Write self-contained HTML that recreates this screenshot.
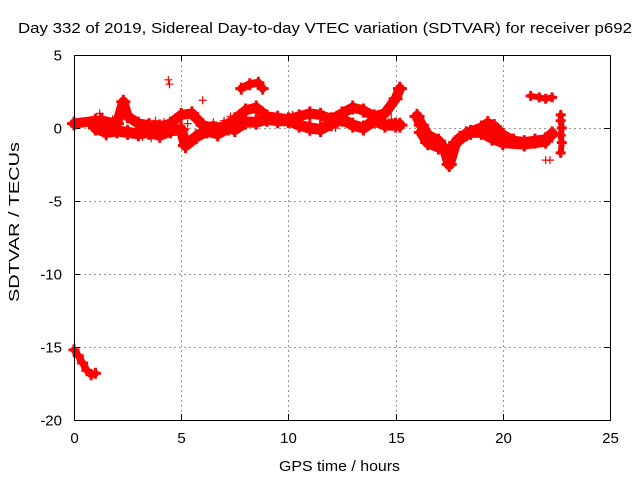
<!DOCTYPE html>
<html><head><meta charset="utf-8"><style>
html,body{margin:0;padding:0;background:#fff}
svg{display:block;font-family:"Liberation Sans",sans-serif}
</style></head><body>
<svg id="chart" width="640" height="480" viewBox="0 0 640 480">
<text x="18" y="33" font-size="15" textLength="614" lengthAdjust="spacingAndGlyphs">Day 332 of 2019, Sidereal Day-to-day VTEC variation (SDTVAR) for receiver p692</text>
<text x="279" y="471" font-size="15" textLength="121" lengthAdjust="spacingAndGlyphs">GPS time / hours</text>
<text transform="translate(19,302) rotate(-90)" font-size="15" textLength="160" lengthAdjust="spacingAndGlyphs">SDTVAR / TECUs</text>
<g id="grid"></g>
<g id="ticks"></g>
<g id="marks"></g>
<rect x="74.5" y="55.5" width="536" height="365" fill="none" stroke="#000" stroke-width="1"/>
</svg>
<script>
const xTicks=[0,5,10,15,20,25];
const yTicks=[5,0,-5,-10,-15,-20];
const upperX=[0,1,1.3,2,2.3,2.5,3,3.5,4,4.5,5,5.5,6,6.5,7,7.5,8,8.5,9,9.5,10,10.5,11,11.5,12,12.5,13,13.5,14,14.5,15,15.2];
const upperY=[0.3,0.5,0.5,0.3,1.8,0.8,0.3,0.2,0.1,0.3,0.9,1.0,0.2,0.0,0.1,0.6,1.2,1.4,0.8,0.7,0.6,0.8,1.0,0.9,0.6,1.0,1.4,1.2,0.8,1.0,2.0,2.7];
const lowerX=[1,1.5,2,2.5,3,3.5,4,4.5,5,5.2,5.7,6.2,6.7,7.2,7.5,8,8.5,9,9.5,10,10.5,11,11.5,12,12.5,13,13.5,14,14.5,15,15.2];
const lowerY=[0.0,-0.3,-0.2,-0.3,-0.4,-0.3,-0.5,-0.2,-0.1,-1.2,-0.6,-0.2,-0.4,0.0,-0.1,0.4,0.4,0.6,0.5,0.5,0.2,0.0,-0.1,0.3,0.6,0.2,0.0,0.5,0.2,0.2,0.2];
const noiseX=[1.2,1.8,2.4,3.2,3.8,4.6,5.3,6.5,7.0,10.2,11.0,12.2,13.8,14.8,1.5,2.8,3.6,4.2];
const noiseY=[0.8,0.6,1.2,-0.6,0.5,0.6,0.3,0.4,0.5,0.9,-0.3,0.0,0.4,0.6,-0.6,0.5,-0.7,0.4];
const humpX=[7.8,8.2,8.6,8.8];
const humpY=[2.7,3.0,3.1,2.7];
const late1X=[16.0,16.2,16.5,17,17.3,17.5,17.8,18.3,19,19.3,19.6,20,20.5,21,21.5,22,22.3];
const late1Y=[0.8,0.2,-0.5,-0.9,-1.5,-2.5,-1.0,-0.4,0.0,0.3,0.1,-0.5,-0.9,-1.0,-0.9,-0.8,-0.4];
const late2X=[16.2,16.5,17,17.5,18,18.5,19,19.5,20,21,22];
const late2Y=[-0.3,-1.0,-1.3,-1.6,-0.7,-0.3,-0.3,-0.7,-1.0,-1.1,-0.9];
const blobX=[21.3,21.7,22.0,22.3];
const blobY=[2.2,2.1,2.0,2.1];
const vertX=[22.7,22.7,22.75,22.7,22.75,22.7];
const vertY=[0.9,0.5,0.0,-0.5,-1.0,-1.7];
const descX=[0,0.2,0.4,0.6,0.8,1.0];
const descY=[-15.2,-15.6,-16.1,-16.6,-16.9,-16.8];
const isoX=[4.4,4.45,6.0,7.3,1.2,22.0,22.2];
const isoY=[3.3,3.0,1.9,0.8,1.0,-2.2,-2.2];

const X=v=>74+v*21.44;
const Y=v=>55+(5-v)*14.6;
const NS='http://www.w3.org/2000/svg';
const grid=document.getElementById('grid'),ticks=document.getElementById('ticks'),marks=document.getElementById('marks');
function mk(tag,attrs,parent){const e=document.createElementNS(NS,tag);for(const k in attrs)e.setAttribute(k,attrs[k]);parent.appendChild(e);return e;}
xTicks.forEach(t=>{
  const x=Math.round(X(t))+0.5;
  if(t>0&&t<25){const g=mk('line',{x1:x,x2:x,y1:55,y2:420,stroke:'#999','stroke-dasharray':'2,3'},grid);
  
  }
  mk('line',{x1:x,x2:x,y1:420,y2:414,stroke:'#000'},ticks);
  mk('line',{x1:x,x2:x,y1:55,y2:61,stroke:'#000'},ticks);
  const l=mk('text',{x:x,y:443,'font-size':15,'text-anchor':'middle'},ticks);l.textContent=t;
  
  
});
yTicks.forEach(t=>{
  const y=Math.round(Y(t))+0.5;
  if(t<5&&t>-20){const g=mk('line',{x1:74,x2:610,y1:y,y2:y,stroke:'#999','stroke-dasharray':'2,3'},grid);
  
  }
  mk('line',{x1:74,x2:80,y1:y,y2:y,stroke:'#000'},ticks);
  mk('line',{x1:604,x2:610,y1:y,y2:y,stroke:'#000'},ticks);
  const l=mk('text',{x:62,y:y+5,'font-size':15,'text-anchor':'end'},ticks);l.textContent=t;
  
  
});
function series(xs,ys,name,w){
  const g=mk('g',{},marks);
  
  
  if(w>0&&xs.length>1){
    mk('polyline',{points:xs.map((x,i)=>X(x)+','+Y(ys[i])).join(' '),fill:'none',stroke:'#f00','stroke-width':w,'stroke-linejoin':'round','stroke-linecap':'round'},g);
  }
  xs.forEach((x,i)=>{
    const px=X(x),py=Y(ys[i]);
    const s=w>0?Math.max(4,w/2+2):4;
    mk('path',{d:`M${px-s} ${py}h${2*s}M${px} ${py-s}v${2*s}`,stroke:'#f00','stroke-width':w>0?3:1.2,fill:'none'},g);
  });
}
series(upperX,upperY,'series-upper-band',10);
series(lowerX,lowerY,'series-lower-band',11);
series(noiseX,noiseY,'series-scatter-noise',0);
series(humpX,humpY,'series-hump',8);
series(late1X,late1Y,'series-late-upper',11);
series(late2X,late2Y,'series-late-lower',11);
series(blobX,blobY,'series-late-blob',6);
series(vertX,vertY,'series-vertical-cluster',6);
series(descX,descY,'series-initial-descent',7);
series(isoX,isoY,'series-isolated-points',0);
</script>
</body></html>
